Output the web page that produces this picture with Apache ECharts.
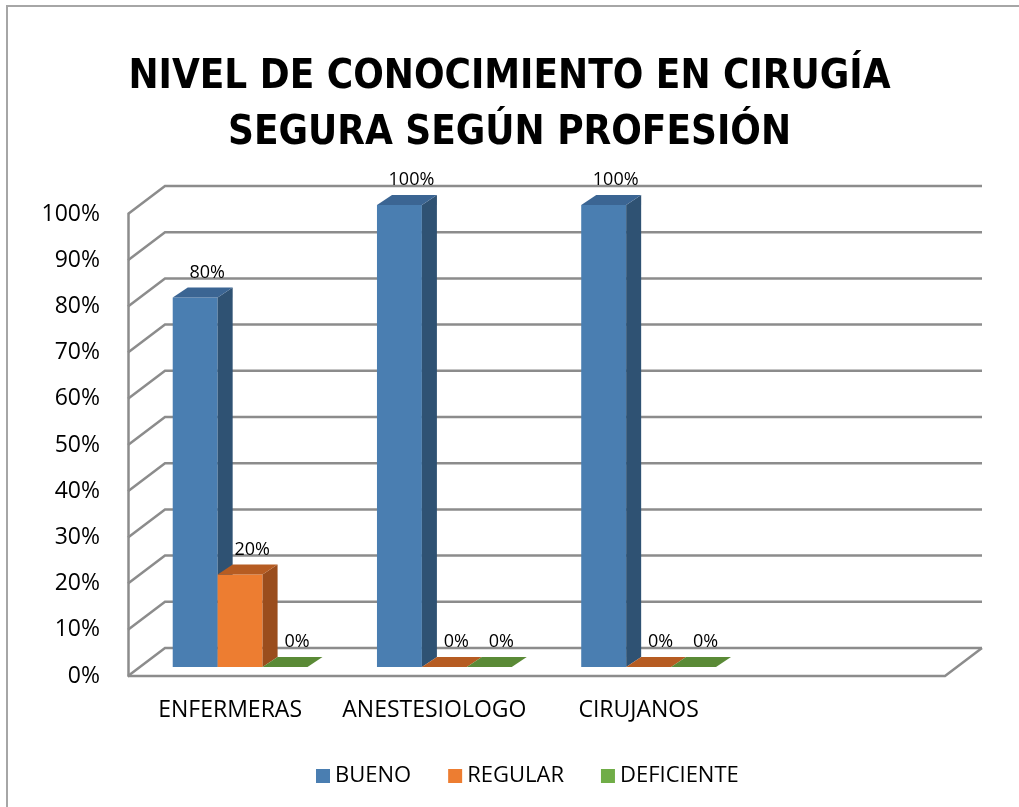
<!DOCTYPE html>
<html>
<head>
<meta charset="utf-8">
<script src="https://cdn.jsdelivr.net/npm/echarts@6/dist/echarts.min.js"></script>
<style>
html, body { margin: 0; padding: 0; background: #fff; }
#chart { width: 1019px; height: 807px; }
</style>
</head>
<body>
<div id="chart"></div>
<script>
// datos
const categories = ['ENFERMERAS', 'ANESTESIOLOGO', 'CIRUJANOS', ''];
const bueno = [80, 100, 100, '-'];
const regular = [20, 0, 0, '-'];
const deficiente = [0, 0, 0, '-'];
const yTicks = [0, 10, 20, 30, 40, 50, 60, 70, 80, 90, 100];

// efecto 3D
const DX = 37, DY = 28;       // profundidad de las paredes
const BDX = 15, BDY = 10;     // profundidad de las barras
const FX = 10, FY = 9;        // desplazamiento del plano frontal de las barras
const gridColor = '#8c8c8c';
const font = '"Open Sans", sans-serif';

function renderWall(params, api) {
    const cs = params.coordSys;
    const v = api.value(1);
    const y = api.coord([0, v])[1];
    const x0 = cs.x, x1 = cs.x + cs.width;
    const st = { stroke: gridColor, lineWidth: 2.5, fill: null };
    const children = [{
        type: 'polyline',
        shape: { points: [[x0, y], [x0 + DX, y - DY], [x1 + DX, y - DY]] },
        style: st
    }];
    if (v === 0) {
        children.push({
            type: 'polyline',
            shape: { points: [[x0, y], [x1, y], [x1 + DX, y - DY]] },
            style: st
        });
    }
    return { type: 'group', children: children };
}

function makeBar(k, front, side, top) {
    return function (params, api) {
        const i = api.value(0), v = api.value(1);
        if (isNaN(v)) return;
        const bw = api.size([1, 0])[0] * 0.22;
        const base = api.coord([i, 0]);
        const tp = api.coord([i, v]);
        const x = base[0] + FX - 1.5 * bw + k * bw;
        const yb = base[1] - FY;
        const yt = tp[1] - FY;
        return {
            type: 'group',
            children: [
                { type: 'rect', shape: { x: x, y: yt, width: bw, height: yb - yt }, style: { fill: front } },
                { type: 'polygon', shape: { points: [[x + bw, yb], [x + bw + BDX, yb - BDY], [x + bw + BDX, yt - BDY], [x + bw, yt]] }, style: { fill: side } },
                { type: 'polygon', shape: { points: [[x, yt], [x + BDX, yt - BDY], [x + bw + BDX, yt - BDY], [x + bw, yt]] }, style: { fill: top } },
                { type: 'text', z2: 10, style: { x: x + bw / 2 + 12, y: yt - BDY - 15, text: v + '%', fill: '#000', font: '18px ' + font, align: 'center', verticalAlign: 'middle' } }
            ]
        };
    };
}

const chart = echarts.init(document.getElementById('chart'));
const option = {
    backgroundColor: '#fff',
    animation: false,
    title: {
        text: 'NIVEL DE CONOCIMIENTO EN CIRUGÍA\nSEGURA SEGÚN PROFESIÓN',
        left: 'center',
        top: 50,
        padding: [0, 0, 0, 20],
        textStyle: {
            fontFamily: '"Liberation Sans Narrow", "DejaVu Sans Condensed", sans-serif',
            fontSize: 40,
            fontWeight: 'bold',
            lineHeight: 56,
            color: '#000'
        }
    },
    legend: {
        left: 311,
        top: 760,
        itemWidth: 14,
        itemHeight: 14,
        itemGap: 37,
        icon: 'rect',
        textStyle: { fontFamily: font, fontSize: 22, color: '#000' },
        data: ['BUENO', 'REGULAR', 'DEFICIENTE']
    },
    grid: { left: 128, right: 74, top: 214, bottom: 131 },
    xAxis: {
        type: 'category',
        data: categories,
        axisLine: { show: false },
        axisTick: { show: false },
        axisLabel: { fontFamily: font, fontSize: 23, color: '#000', margin: 23, interval: 0 }
    },
    yAxis: {
        type: 'value',
        min: 0,
        max: 100,
        interval: 10,
        axisLine: { show: true, lineStyle: { color: gridColor, width: 2.5 } },
        axisTick: { show: false },
        splitLine: { show: false },
        axisLabel: { fontFamily: font, fontSize: 23, color: '#000', margin: 28, formatter: '{value}%' }
    },
    graphic: [{
        type: 'polyline',
        shape: { points: [[7, 807], [7, 6], [1019, 6]] },
        style: { stroke: '#a6a6a6', lineWidth: 2, fill: null }
    }],
    series: [
        {
            type: 'custom', name: 'paredes', silent: true, z: 1,
            renderItem: renderWall,
            data: yTicks.map(function (v) { return [0, v]; })
        },
        {
            type: 'custom', name: 'BUENO', z: 2,
            itemStyle: { color: '#4a7eb1' },
            renderItem: makeBar(0, '#4a7eb1', '#2f5273', '#3b6593'),
            data: bueno.map(function (v, i) { return [i, v]; })
        },
        {
            type: 'custom', name: 'REGULAR', z: 2,
            itemStyle: { color: '#ed7d31' },
            renderItem: makeBar(1, '#ed7d31', '#9a4d1d', '#b65c22'),
            data: regular.map(function (v, i) { return [i, v]; })
        },
        {
            type: 'custom', name: 'DEFICIENTE', z: 2,
            itemStyle: { color: '#70ad47' },
            renderItem: makeBar(2, '#70ad47', '#4b7530', '#5a8a36'),
            data: deficiente.map(function (v, i) { return [i, v]; })
        }
    ]
};
chart.setOption(option);
window.addEventListener('resize', function () {
    chart.resize();
});
</script>
</body>
</html>
